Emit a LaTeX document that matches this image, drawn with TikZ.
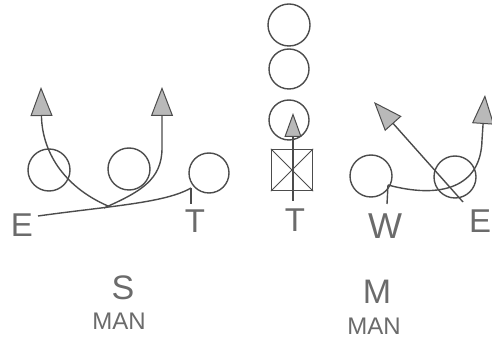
\documentclass[tikz,border=0pt]{standalone}
\usepackage{fontspec}
\setmainfont{Liberation Sans}
\usetikzlibrary{arrows.meta}
\definecolor{ink}{gray}{0.3}
\definecolor{txt}{gray}{0.42}
\tikzset{
  player/.style={circle, draw=ink, line width=1.4pt, minimum size=42pt, inner sep=0pt},
  centerbox/.style={rectangle, draw=ink, line width=1.4pt, minimum size=41pt, inner sep=0pt},
  route/.style={draw=ink, line width=1.4pt},
  tipped/.style={route, -{Triangle[length=29pt,width=22pt,fill=gray!55,line width=1pt]}},
  smalltip/.style={route, -{Triangle[length=24pt,width=17pt,fill=gray!55,line width=1pt]}},
  lbl/.style={text=txt, inner sep=0pt, font=\fontsize{33}{33}\selectfont},
  big/.style={text=txt, inner sep=0pt, font=\fontsize{34}{34}\selectfont},
  small/.style={text=txt, inner sep=0pt, font=\fontsize{24}{24}\selectfont},
}
\begin{document}
\begin{tikzpicture}[x=1pt,y=-1pt]
\useasboundingbox (0,0) rectangle (492,344);
% ---------- left group (S MAN) ----------
\node[player] (c1) at (49,170) {};
\node[player] (c2) at (129,169) {};
\node[player, minimum size=40pt] (c3) at (209,173) {};
\node[lbl] (E1) at (22,225) {E};
\node[lbl] (T1) at (195,221) {T};
\coordinate (eA) at (38,216);
\coordinate (x1) at (108,206);
\coordinate (x2) at (104,208);
\coordinate (a1) at (41,87);
\coordinate (a2) at (162,87);
\coordinate (tc) at (191,188);
\coordinate (ts) at (191,204);
\draw[route] (eA) .. controls (110,206) and (165,203) .. (tc);
\draw[route] (ts) -- (tc);
\draw[tipped] (x1) .. controls (62,186) and (42,150) .. (a1);
\draw[tipped] (x2) .. controls (140,192) and (162,180) .. (162,148) -- (a2);
% ---------- right group (M MAN) ----------
\node[player] (o1) at (289,25) {};
\node[player, minimum size=40pt] (o2) at (289,69) {};
\node[player, minimum size=40pt] (o3) at (289,120) {};
\node[centerbox] (sq) at (292,170) {};
\draw[ink, line width=0.8pt] (sq.north west) -- (sq.south east) (sq.north east) -- (sq.south west);
\coordinate (cs) at (293,201);
\coordinate (ca) at (293,113);
\draw[smalltip] (cs) -- (ca);
\node[lbl] (T2) at (295,220) {T};
\node[player] (w) at (371,176) {};
\node[player] (e2) at (455,177) {};
\node[lbl, font=\fontsize{36}{36}\selectfont] (W) at (385,226) {W};
\node[lbl] (E2) at (480,221) {E};
\coordinate (ws) at (387,204);
\coordinate (wc) at (388,185);
\coordinate (a3) at (485,95);
\coordinate (ed) at (463,202);
\coordinate (a4) at (374,102);
\draw[route] (ws) -- (wc);
\draw[tipped] (wc) .. controls (440,199) and (481,188) .. (482,140) -- (a3);
\draw[tipped] (ed) -- (a4);
% ---------- captions ----------
\node[big] (S) at (123,288) {S};
\node[small] (man1) at (119,321) {MAN};
\node[big] (M) at (377,292) {M};
\node[small] (man2) at (374,326) {MAN};
\end{tikzpicture}
\end{document}
